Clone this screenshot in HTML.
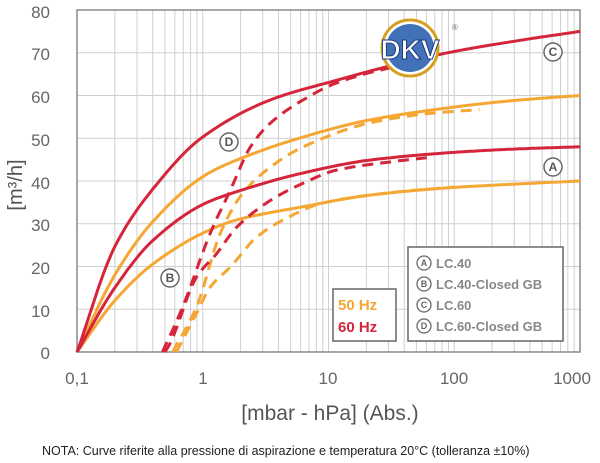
<!DOCTYPE html>
<html><head><meta charset="utf-8"><style>
body{margin:0;background:#fff;width:600px;height:463px;overflow:hidden}
svg{display:block}
text{font-family:"Liberation Sans",sans-serif}
</style></head><body>
<svg id="s" width="600" height="463" xmlns="http://www.w3.org/2000/svg">
<g id="grid"></g>
<rect x="77" y="10" width="503" height="342" fill="none" stroke="#8a8a8a" stroke-width="1.5"/>
<g id="curves"></g>
<g font-size="17" fill="#666" text-anchor="end">
<text x="50" y="18">80</text><text x="50" y="60">70</text><text x="50" y="103">60</text><text x="50" y="146">50</text><text x="50" y="189">40</text><text x="50" y="231">30</text><text x="50" y="274">20</text><text x="50" y="317">10</text><text x="50" y="359">0</text>
</g>
<g font-size="17" fill="#666" text-anchor="middle">
<text x="77" y="384">0,1</text><text x="203" y="384">1</text><text x="328" y="384">10</text><text x="454" y="384">100</text><text x="572" y="384">1000</text>
</g>
<text transform="translate(22,185) rotate(-90)" font-size="20" fill="#555" text-anchor="middle">[m³/h]</text>
<text x="330" y="420" font-size="21" fill="#555" text-anchor="middle">[mbar - hPa] (Abs.)</text>
<text x="42" y="455" font-size="12.5" fill="#222">NOTA:  Curve riferite alla pressione di aspirazione e temperatura 20°C (tolleranza ±10%)</text>
<g fill="#fff" stroke="#666" stroke-width="1.5" font-size="12" text-anchor="middle">
<circle cx="553" cy="52" r="9"/><circle cx="553" cy="167" r="9"/><circle cx="229" cy="142" r="9"/><circle cx="170" cy="278" r="9"/>
</g>
<g font-size="12" fill="#555" text-anchor="middle" font-weight="bold">
<text x="553" y="56">C</text><text x="553" y="171">A</text><text x="229" y="146">D</text><text x="170" y="282">B</text>
</g>
<rect x="333" y="289" width="63" height="52" fill="#fff" stroke="#666" stroke-width="1.5"/>
<text x="338" y="310" font-size="15" font-weight="bold" fill="#f5a733">50 Hz</text>
<text x="338" y="332" font-size="15" font-weight="bold" fill="#d4253a">60 Hz</text>
<rect x="408" y="247" width="155" height="94" fill="#fff" stroke="#666" stroke-width="1.5"/>
<g fill="#fff" stroke="#666" stroke-width="1.3"><circle cx="424" cy="263" r="7"/><circle cx="424" cy="284" r="7"/><circle cx="424" cy="305" r="7"/><circle cx="424" cy="326" r="7"/></g>
<g font-size="9" fill="#666" text-anchor="middle" font-weight="bold"><text x="424" y="266">A</text><text x="424" y="287">B</text><text x="424" y="308">C</text><text x="424" y="329">D</text></g>
<g font-size="13" fill="#888" font-weight="bold"><text x="436" y="268">LC.40</text><text x="436" y="289">LC.40-Closed GB</text><text x="436" y="310">LC.60</text><text x="436" y="331">LC.60-Closed GB</text></g>
<g>
<circle cx="410" cy="48" r="28" fill="#fff" stroke="#d4a020" stroke-width="3"/>
<circle cx="410" cy="48" r="24" fill="#2e62b0" opacity="0.9"/>
<text x="410" y="59" font-size="28" font-weight="bold" fill="#fff" stroke="#1a3c80" stroke-width="1" text-anchor="middle">DKV</text>
<text x="452" y="30" font-size="8" fill="#666">®</text>
</g>
</svg>
<script>
const NS="http://www.w3.org/2000/svg";
const px=X=>77+125.75*X, py=v=>352-4.275*v;
const g=document.getElementById('grid');
function line(x1,y1,x2,y2){const l=document.createElementNS(NS,'line');l.setAttribute('x1',x1);l.setAttribute('y1',y1);l.setAttribute('x2',x2);l.setAttribute('y2',y2);l.setAttribute('stroke','#cfcfcf');l.setAttribute('stroke-width','1');g.appendChild(l);}
for(let d=0;d<4;d++)for(let m=2;m<=9;m++){const x=px(d+Math.log10(m));line(x,10,x,352);}
for(let d=1;d<4;d++){line(px(d),10,px(d),352);}
for(let v=10;v<80;v+=10)line(77,py(v),580,py(v));
function mono(pts){
 const n=pts.length,x=pts.map(p=>p[0]),y=pts.map(p=>p[1]);
 const dl=[],m=[];
 for(let i=0;i<n-1;i++)dl.push((y[i+1]-y[i])/(x[i+1]-x[i]));
 m[0]=dl[0];m[n-1]=dl[n-2];
 for(let i=1;i<n-1;i++){m[i]=dl[i-1]*dl[i]<=0?0:2/(1/dl[i-1]+1/dl[i]);}
 const out=[];
 for(let i=0;i<n-1;i++){const h=x[i+1]-x[i];
  for(let k=0;k<20;k++){const t=k/20,t2=t*t,t3=t2*t;
   const v=(2*t3-3*t2+1)*y[i]+(t3-2*t2+t)*h*m[i]+(-2*t3+3*t2)*y[i+1]+(t3-t2)*h*m[i+1];
   out.push([x[i]+t*h,v]);}}
 out.push(pts[n-1]);return out;
}
function path(pts,col,dash){
 const P=mono(pts).map(p=>px(p[0]).toFixed(1)+','+py(p[1]).toFixed(1));
 const e=document.createElementNS(NS,'polyline');e.setAttribute('points',P.join(' '));e.setAttribute('fill','none');e.setAttribute('stroke',col);e.setAttribute('stroke-width','3');e.setAttribute('stroke-linejoin','round');
 if(dash)e.setAttribute('stroke-dasharray','11 7');
 document.getElementById('curves').appendChild(e);
}
const R='#d4253a',O='#f5a733';
path([[0,0],[0.3,12],[0.6,20.5],[1,27.8],[1.27,30.9],[1.8,34],[2.33,36.7],[3,38.5],[3.5,39.3],[4,40]],O);
path([[0,0],[0.3,18],[0.6,30.4],[1,41],[1.27,44.9],[1.8,50.3],[2.33,54.3],[3,57.3],[3.5,58.9],[4,60]],O);
path([[0.79,0],[0.95,9],[1.06,15.2],[1.22,19.9],[1.43,26.9],[1.64,30.9],[1.96,34.9],[2.5,37.3],[3,38.6]],O,1);
path([[0.76,0],[0.95,10.5],[1.14,27.8],[1.32,37.2],[1.54,43.3],[1.8,48],[2.33,53.6],[2.8,55.8],[3.2,56.7]],O,1);
path([[0,0],[0.3,15],[0.6,26],[1,34.5],[1.27,37.5],[1.8,41.9],[2.33,44.9],[3,46.7],[3.5,47.5],[4,48]],R);
path([[0,0],[0.3,24.6],[0.6,38],[1,50.3],[1.54,59],[2.07,63.6],[2.5,67],[3,70.3],[3.5,72.8],[4,75]],R);
path([[0.7,0],[0.74,2],[0.95,17.5],[1.11,23],[1.27,29.2],[1.54,35.5],[1.8,39.5],[2.07,42.6],[2.5,44.5],[2.8,45.5]],R,1);
path([[0.68,0],[0.84,10.5],[1.06,27.8],[1.22,37.9],[1.38,48],[1.54,53.6],[1.8,59],[2.07,63],[2.5,66.5],[2.8,67.8]],R,1);
</script>
</body></html>
